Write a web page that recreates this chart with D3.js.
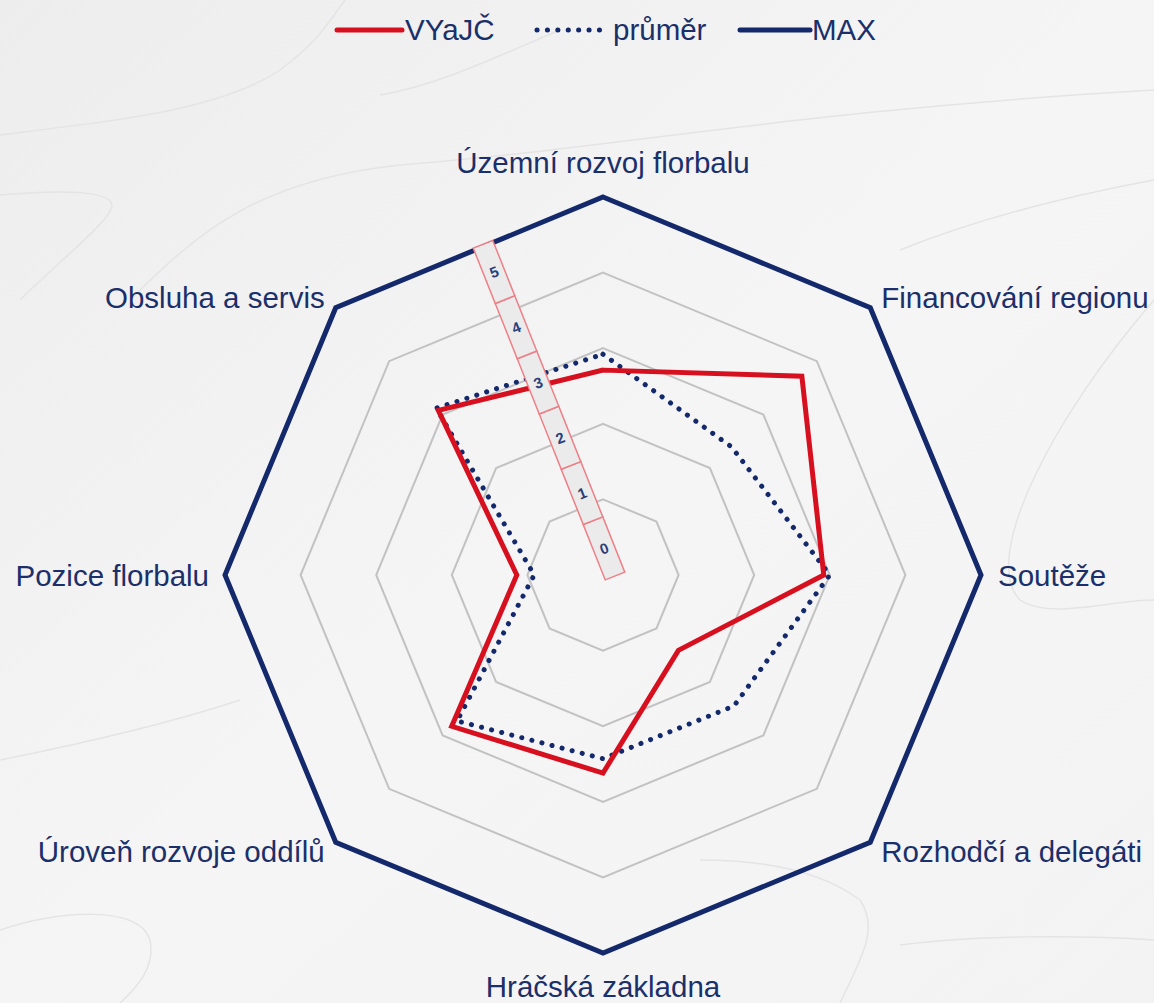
<!DOCTYPE html>
<html>
<head>
<meta charset="utf-8">
<script src="https://cdn.jsdelivr.net/npm/d3@7"></script>
<style>
  html, body { margin: 0; padding: 0; }
  #container { width: 1154px; height: 1003px; }
</style>
</head>
<body>
<div id="container"></div>
<script>
// axes, clockwise from top
const categories = ['Územní rozvoj florbalu', 'Financování regionu', 'Soutěže', 'Rozhodčí a delegáti',
                    'Hráčská základna', 'Úroveň rozvoje oddílů', 'Pozice florbalu', 'Obsluha a servis'];
const vyajc  = [2.71, 3.72, 2.92, 1.41, 2.62, 2.83, 1.14, 3.08];
const prumer = [2.92, 2.40, 3.00, 2.45, 2.43, 2.73, 0.91, 3.12];
const maxVals = [5, 5, 5, 5, 5, 5, 5, 5];
const levels = [1, 2, 3, 4];
const rulerTicks = [0, 1, 2, 3, 4, 5];
const legendNames = ['VYaJČ', 'průměr', 'MAX'];

let w = 1154,
    h = 1003;
let cx = 603, cy = 575;

let navy = '#13296b',
    red = '#d7101f',
    textCol = '#1b2f6a';

let viz = d3.select('#container')
    .append('svg')
      .attr('width', w)
      .attr('height', h)
      .style('font-family', 'Liberation Sans, Arial, sans-serif');

function main() {
    let defs = viz.append('defs');
    let bg = defs.append('linearGradient')
        .attr('id', 'bg')
        .attr('x1', 0).attr('y1', 0).attr('x2', 1).attr('y2', 1);
    bg.append('stop').attr('offset', '0%').attr('stop-color', '#ededed');
    bg.append('stop').attr('offset', '50%').attr('stop-color', '#f5f5f5');
    bg.append('stop').attr('offset', '100%').attr('stop-color', '#f3f3f3');

    viz.append('rect')
        .attr('width', w).attr('height', h)
        .attr('fill', 'url(#bg)');

    // faint swooshes in the background
    let sw = viz.append('g')
        .attr('fill', 'none')
        .attr('stroke', '#e4e4e4')
        .attr('stroke-width', 1.5);
    sw.append('path').attr('d', 'M0,135 C120,120 220,110 280,70 C320,40 330,20 345,0');
    sw.append('path').attr('d', 'M0,195 C60,190 110,190 112,205 C112,220 60,260 20,300');
    sw.append('path').attr('d', 'M130,300 C200,230 260,180 400,165 C600,150 800,110 1154,90');
    sw.append('path').attr('d', 'M380,95 C440,85 500,55 560,30');
    sw.append('path').attr('d', 'M900,250 C1000,210 1100,190 1154,180');
    sw.append('path').attr('d', 'M1154,300 C1050,420 980,560 1020,600 C1050,620 1110,600 1154,600');
    sw.append('path').attr('d', 'M0,760 C100,740 180,720 240,700');
    sw.append('path').attr('d', 'M700,860 C760,860 820,870 860,900 C880,930 860,960 840,1003');
    sw.append('path').attr('d', 'M0,930 C60,910 140,905 150,940 C155,965 140,985 120,1003');
    sw.append('path').attr('d', 'M900,945 C980,935 1080,935 1154,940');

    let r = d3.scaleLinear().domain([0, 5]).range([0, 378]);
    let angle = d3.scaleLinear().domain([0, categories.length]).range([0, 2 * Math.PI]);

    let radial = d3.lineRadial()
        .angle((d, i) => angle(i))
        .radius(d => r(d))
        .curve(d3.curveLinearClosed);

    let chart = viz.append('g')
        .attr('transform', 'translate(' + cx + ',' + cy + ')');

    // grid rings
    chart.selectAll('.ring').data(levels)
      .enter()
        .append('path')
          .attr('class', 'ring')
          .attr('d', lv => radial(categories.map(() => lv)))
          .attr('fill', 'none')
          .attr('stroke', '#c2c2c2')
          .attr('stroke-width', 2);

    // MAX
    chart.append('path')
        .attr('d', radial(maxVals))
        .attr('fill', 'none')
        .attr('stroke', navy)
        .attr('stroke-width', 5)
        .attr('stroke-linejoin', 'miter');

    // průměr
    chart.append('path')
        .attr('d', radial(prumer))
        .attr('fill', 'none')
        .attr('stroke', navy)
        .attr('stroke-width', 5)
        .attr('stroke-linecap', 'round')
        .attr('stroke-dasharray', '0.1 10.3');

    // VYaJČ
    chart.append('path')
        .attr('d', radial(vyajc))
        .attr('fill', 'none')
        .attr('stroke', red)
        .attr('stroke-width', 5)
        .attr('stroke-linejoin', 'miter');

    // ruler (drawn over the lines)
    let rulerLen = 357, rulerW = 21;
    let rs = d3.scaleBand().domain(rulerTicks).range([0, -rulerLen]);
    let ruler = viz.append('g')
        .attr('transform', 'translate(' + (cx + 12) + ',' + (cy + 1) + ') rotate(-21.7)');
    ruler.selectAll('.seg').data(rulerTicks)
      .enter()
        .append('rect')
          .attr('class', 'seg')
          .attr('x', -rulerW / 2)
          .attr('y', d => rs(d))
          .attr('width', rulerW)
          .attr('height', rs.bandwidth())
          .attr('fill', '#ebebeb')
          .attr('stroke', '#ee7f86')
          .attr('stroke-width', 1.5);
    ruler.selectAll('.tick').data(rulerTicks)
      .enter()
        .append('text')
          .attr('class', 'tick')
          .attr('x', 0)
          .attr('y', d => rs(d) + rs.bandwidth() / 2)
          .attr('text-anchor', 'middle')
          .attr('dominant-baseline', 'central')
          .attr('font-size', 15)
          .attr('font-weight', 'bold')
          .attr('fill', '#2a3f7a')
          .text(d => d);

    // axis labels
    let labelPos = [
        {dx: 0, dy: -24, anchor: 'middle', base: 'auto'},
        {dx: 11, dy: 0, anchor: 'start', base: 'auto'},
        {dx: 17, dy: 0, anchor: 'start', base: 'central'},
        {dx: 11, dy: 20, anchor: 'start', base: 'auto'},
        {dx: 0, dy: 44, anchor: 'middle', base: 'auto'},
        {dx: -11, dy: 20, anchor: 'end', base: 'auto'},
        {dx: -16, dy: 0, anchor: 'end', base: 'central'},
        {dx: -11, dy: 0, anchor: 'end', base: 'auto'}
    ];
    chart.selectAll('.axlabel').data(categories)
      .enter()
        .append('text')
          .attr('class', 'axlabel')
          .attr('x', (d, i) => r(5) * Math.sin(angle(i)) + labelPos[i].dx)
          .attr('y', (d, i) => -r(5) * Math.cos(angle(i)) + labelPos[i].dy)
          .attr('text-anchor', (d, i) => labelPos[i].anchor)
          .attr('dominant-baseline', (d, i) => labelPos[i].base)
          .attr('font-size', 29.5)
          .attr('fill', textCol)
          .text(d => d);

    // legend
    let legend = viz.append('g');
    let lx = [337, 537, 740];
    let tx = [405, 613, 812];
    let lineW = [65, 63, 70];
    legend.selectAll('.lline').data(legendNames)
      .enter()
        .append('line')
          .attr('class', 'lline')
          .attr('x1', (d, i) => lx[i])
          .attr('x2', (d, i) => lx[i] + lineW[i])
          .attr('y1', 30).attr('y2', 30)
          .attr('stroke', (d, i) => i === 0 ? red : navy)
          .attr('stroke-width', 5)
          .attr('stroke-linecap', 'round')
          .attr('stroke-dasharray', (d, i) => i === 1 ? '0.1 10.3' : null);
    legend.selectAll('.ltext').data(legendNames)
      .enter()
        .append('text')
          .attr('class', 'ltext')
          .attr('x', (d, i) => tx[i])
          .attr('y', 40)
          .attr('font-size', 29.5)
          .attr('fill', textCol)
          .text(d => d);
}

main();
</script>
</body>
</html>
